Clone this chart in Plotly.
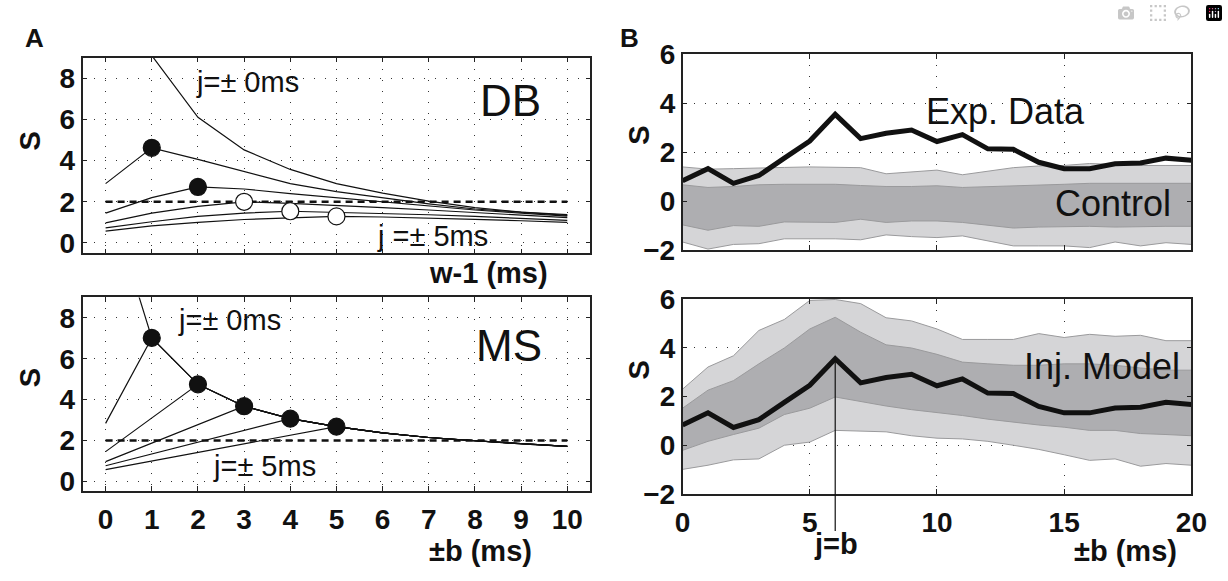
import plotly.graph_objects as go

# ---------------- data ----------------
w_ms = [0, 1, 2, 3, 4, 5, 6, 7, 8, 9, 10]
jitters = [0, 1, 2, 3, 4, 5]

db_j0 = [None, 9.1, 6.1, 4.52, 3.57, 2.88, 2.42, 2.03, 1.72, 1.5, 1.38]
db_j1 = [2.88, 4.62, 4.06, 3.46, 2.88, 2.49, 2.18, 1.9, 1.65, 1.49, 1.34]
db_j2 = [1.45, 2.2, 2.72, 2.62, 2.4, 2.2, 2.0, 1.8, 1.6, 1.45, 1.3]
db_j3 = [0.98, 1.45, 1.78, 2.0, 1.92, 1.83, 1.72, 1.6, 1.48, 1.37, 1.23]
db_j4 = [0.73, 1.03, 1.29, 1.45, 1.54, 1.49, 1.45, 1.37, 1.29, 1.2, 1.1]
db_j5 = [0.58, 0.83, 1.0, 1.14, 1.22, 1.29, 1.26, 1.22, 1.15, 1.08, 1.0]

ms_j0 = [14.3, 7.02, 4.75, 3.68, 3.07, 2.68, 2.38, 2.15, 1.99, 1.84, 1.72]
ms_j1 = [2.84, 7.02, 4.75, 3.68, 3.07, 2.68, 2.38, 2.15, 1.99, 1.84, 1.72]
ms_j2 = [1.46, 3.1, 4.75, 3.68, 3.07, 2.68, 2.38, 2.15, 1.99, 1.84, 1.72]
ms_j3 = [0.97, 1.87, 2.78, 3.68, 3.07, 2.68, 2.38, 2.15, 1.99, 1.84, 1.72]
ms_j4 = [0.77, 1.35, 1.92, 2.5, 3.07, 2.68, 2.38, 2.15, 1.99, 1.84, 1.72]
ms_j5 = [0.58, 1.0, 1.42, 1.84, 2.26, 2.68, 2.38, 2.15, 1.99, 1.84, 1.72]

threshold = 2.0

b_ms = list(range(21))
exp_data = [0.83, 1.33, 0.73, 1.05, 1.76, 2.46, 3.55, 2.56, 2.78, 2.91, 2.44,
            2.72, 2.14, 2.12, 1.59, 1.33, 1.33, 1.53, 1.56, 1.76, 1.67]

ctrl_outer_hi = [1.40, 1.31, 1.33, 1.37, 1.38, 1.40, 1.40, 1.37, 1.12, 1.18, 1.27,
                 1.08, 1.24, 1.37, 1.44, 1.46, 1.54, 1.50, 1.46, 1.46, 1.46]
ctrl_outer_lo = [-1.67, -1.96, -1.77, -1.74, -1.54, -1.54, -1.54, -1.58, -1.38, -1.45, -1.49,
                 -1.42, -1.62, -1.83, -1.83, -1.83, -1.90, -1.67, -1.83, -1.70, -1.77]
ctrl_inner_hi = [0.67, 0.56, 0.60, 0.67, 0.69, 0.69, 0.69, 0.64, 0.60, 0.60, 0.63,
                 0.56, 0.60, 0.64, 0.67, 0.69, 0.73, 0.73, 0.73, 0.73, 0.73]
ctrl_inner_lo = [-0.97, -1.19, -1.00, -1.03, -0.85, -0.87, -0.87, -0.74, -0.87, -0.81, -0.81,
                 -0.87, -0.97, -1.10, -1.06, -1.03, -1.03, -1.06, -1.03, -1.03, -1.03]

inj_outer_hi = [2.30, 3.21, 3.67, 4.71, 5.16, 5.94, 5.98, 5.81, 5.23, 5.10, 4.77,
                4.34, 4.34, 4.34, 4.58, 4.42, 4.55, 4.47, 4.51, 4.29, 4.29]
inj_outer_lo = [-0.99, -0.82, -0.60, -0.56, 0.00, 0.13, 0.61, 0.57, 0.55, 0.39, 0.29,
                0.26, 0.16, 0.00, -0.17, -0.39, -0.62, -0.56, -0.86, -0.75, -0.82]
inj_inner_hi = [1.52, 2.26, 2.65, 3.34, 3.99, 4.77, 5.25, 4.64, 4.12, 3.99, 3.73,
                3.41, 3.34, 3.28, 3.28, 3.34, 3.34, 3.28, 3.17, 3.08, 3.08]
inj_inner_lo = [-0.21, 0.16, 0.44, 0.70, 1.26, 1.52, 1.98, 1.78, 1.61, 1.46, 1.35,
                1.22, 1.07, 0.94, 0.83, 0.74, 0.61, 0.61, 0.48, 0.44, 0.39]

# ---------------- style ----------------
W, H = 1228, 581
FONT = "Liberation Sans, Arial, Helvetica, sans-serif"
INK = "#111111"
LIGHT = "#d5d5d7"
DARK = "#aeaeb1"
EDGE = "#9a9a9c"
TICK_SIZE = 28
LABEL_SIZE = 29


def px_x(p):
    return p / W


def px_y(p):
    return 1 - p / H


fig = go.Figure()

# ---------- panel A ----------
db_curves = [db_j0, db_j1, db_j2, db_j3, db_j4, db_j5]
ms_curves = [ms_j0, ms_j1, ms_j2, ms_j3, ms_j4, ms_j5]

for xa, ya, curves in (("x", "y", db_curves), ("x3", "y3", ms_curves)):
    fig.add_trace(go.Scatter(x=[w_ms[0], w_ms[-1]], y=[threshold, threshold], mode="lines",
                             line=dict(color=INK, width=2.5, dash="7px,5px"),
                             xaxis=xa, yaxis=ya, showlegend=False, hoverinfo="skip"))
    for c in curves:
        fig.add_trace(go.Scatter(x=w_ms, y=c, mode="lines",
                                 line=dict(color=INK, width=1.2),
                                 xaxis=xa, yaxis=ya, showlegend=False))
    mx = [j for j in jitters if j > 0]
    my = [curves[j][w_ms.index(j)] for j in mx]
    filled = [v > threshold for v in my]
    fig.add_trace(go.Scatter(
        x=mx, y=my, mode="markers",
        marker=dict(size=17, color=[INK if f else "white" for f in filled],
                    line=dict(color=INK, width=1.2)),
        xaxis=xa, yaxis=ya, showlegend=False, cliponaxis=False))

# ---------- panel B ----------
for xa, ya, o_lo, o_hi, i_lo, i_hi in (
        ("x2", "y2", ctrl_outer_lo, ctrl_outer_hi, ctrl_inner_lo, ctrl_inner_hi),
        ("x4", "y4", inj_outer_lo, inj_outer_hi, inj_inner_lo, inj_inner_hi)):
    for lo, hi, col in ((o_lo, o_hi, LIGHT), (i_lo, i_hi, DARK)):
        fig.add_trace(go.Scatter(x=b_ms, y=lo, mode="lines", line=dict(color=EDGE, width=1),
                                 xaxis=xa, yaxis=ya, showlegend=False))
        fig.add_trace(go.Scatter(x=b_ms, y=hi, mode="lines", line=dict(color=EDGE, width=1),
                                 fill="tonexty", fillcolor=col,
                                 xaxis=xa, yaxis=ya, showlegend=False))
    fig.add_trace(go.Scatter(x=b_ms, y=exp_data, mode="lines",
                             line=dict(color=INK, width=5),
                             xaxis=xa, yaxis=ya, showlegend=False))

# ---------- axes ----------
common = dict(showline=True, linecolor="#222222", linewidth=1.5, mirror="allticks",
              ticks="inside", ticklen=5, tickcolor="#222222", tickwidth=1.2,
              showgrid=True, gridcolor="#333333", griddash="1px,10px", gridwidth=1,
              zeroline=False,
              tickfont=dict(family=FONT, size=TICK_SIZE, color=INK, weight="bold"),
              fixedrange=True)

A_X = [px_x(76), px_x(594)]
B_X = [px_x(688), px_x(1207)]

fig.update_layout(
    width=W, height=H, autosize=False,
    margin=dict(l=0, r=0, t=0, b=0),
    paper_bgcolor="white", plot_bgcolor="white",
    xaxis=dict(common, domain=A_X, range=[-0.5, 10.5], tickvals=w_ms,
               showticklabels=False, anchor="y"),
    yaxis=dict(common, domain=[px_y(251.7), px_y(45)], range=[-0.5, 9],
               tickvals=[0, 2, 4, 6, 8], anchor="x"),
    xaxis3=dict(common, domain=A_X, range=[-0.5, 10.5], tickvals=w_ms, anchor="y3",
                ticklabelstandoff=3),
    yaxis3=dict(common, domain=[px_y(502.5), px_y(298.3)], range=[-0.45, 9],
                tickvals=[0, 2, 4, 6, 8], anchor="x3"),
    xaxis2=dict(common, domain=B_X, range=[0, 20], tickvals=[0, 5, 10, 15, 20],
                showticklabels=False, anchor="y2"),
    yaxis2=dict(common, domain=[px_y(248.3), px_y(41.7)], range=[-2, 6],
                tickvals=[-2, 0, 2, 4, 6], anchor="x2"),
    xaxis4=dict(common, domain=B_X, range=[0, 20], tickvals=[0, 5, 10, 15, 20], anchor="y4",
                ticklabelstandoff=3),
    yaxis4=dict(common, domain=[px_y(506), px_y(300)], range=[-2, 6],
                tickvals=[-2, 0, 2, 4, 6], anchor="x4"),
)

# j=b marker line at the peak of the experimental data
peak_i = max(range(len(exp_data)), key=lambda i: exp_data[i])
peak_x = b_ms[peak_i]
y4_lo, y4_hi = -2, 6
fig.add_shape(type="line", xref="x4", yref="y4 domain",
              x0=peak_x, x1=peak_x,
              y0=-0.19, y1=(exp_data[peak_i] - y4_lo) / (y4_hi - y4_lo),
              line=dict(color=INK, width=1.2), layer="above")


def ann(text, x, y, size, xref="paper", yref="paper", bold=False, xanchor="center",
        yanchor="middle", angle=0):
    fig.add_annotation(text=text, x=x, y=y, xref=xref, yref=yref, showarrow=False,
                       xanchor=xanchor, yanchor=yanchor, textangle=angle, borderpad=0,
                       font=dict(family=FONT, size=size, color=INK,
                                 weight="bold" if bold else "normal"))


ann("A", px_x(27), px_y(24), 26, bold=True)
ann("B", px_x(634), px_y(24), 26, bold=True)
ann("S", px_x(22), px_y(133), LABEL_SIZE, bold=True, angle=-90)
ann("S", px_x(22), px_y(383), LABEL_SIZE, bold=True, angle=-90)
ann("S", px_x(644), px_y(127), LABEL_SIZE, bold=True, angle=-90)
ann("S", px_x(644), px_y(375), LABEL_SIZE, bold=True, angle=-90)
ann("w-1 (ms)", px_x(552), px_y(273), LABEL_SIZE, bold=True, xanchor="right")
ann("±b (ms)", px_x(535), px_y(566), LABEL_SIZE, bold=True, xanchor="right")
ann("±b (ms)", px_x(1193), px_y(566), LABEL_SIZE, bold=True, xanchor="right")
ann("j=b", px_x(844), px_y(559), LABEL_SIZE, bold=True)

ann("DB", 8.76, 6.9, 44, xref="x", yref="y")
ann("MS", 8.73, 6.63, 44, xref="x3", yref="y3")
ann("j=± 0ms", 3.07, 7.82, 29, xref="x", yref="y")
ann("j =± 5ms", 7.07, 0.35, 29, xref="x", yref="y")
ann("j=± 0ms", 2.68, 7.9, 29, xref="x3", yref="y3")
ann("j=± 5ms", 3.45, 0.77, 29, xref="x3", yref="y3")
ann("Exp. Data", 12.7, 3.65, 36, xref="x2", yref="y2")
ann("Control", 16.9, -0.1, 36, xref="x2", yref="y2")
ann("Inj. Model", 16.5, 3.25, 36, xref="x4", yref="y4")

fig.write_html("out.html", post_script="document.body.style.margin='0';")
